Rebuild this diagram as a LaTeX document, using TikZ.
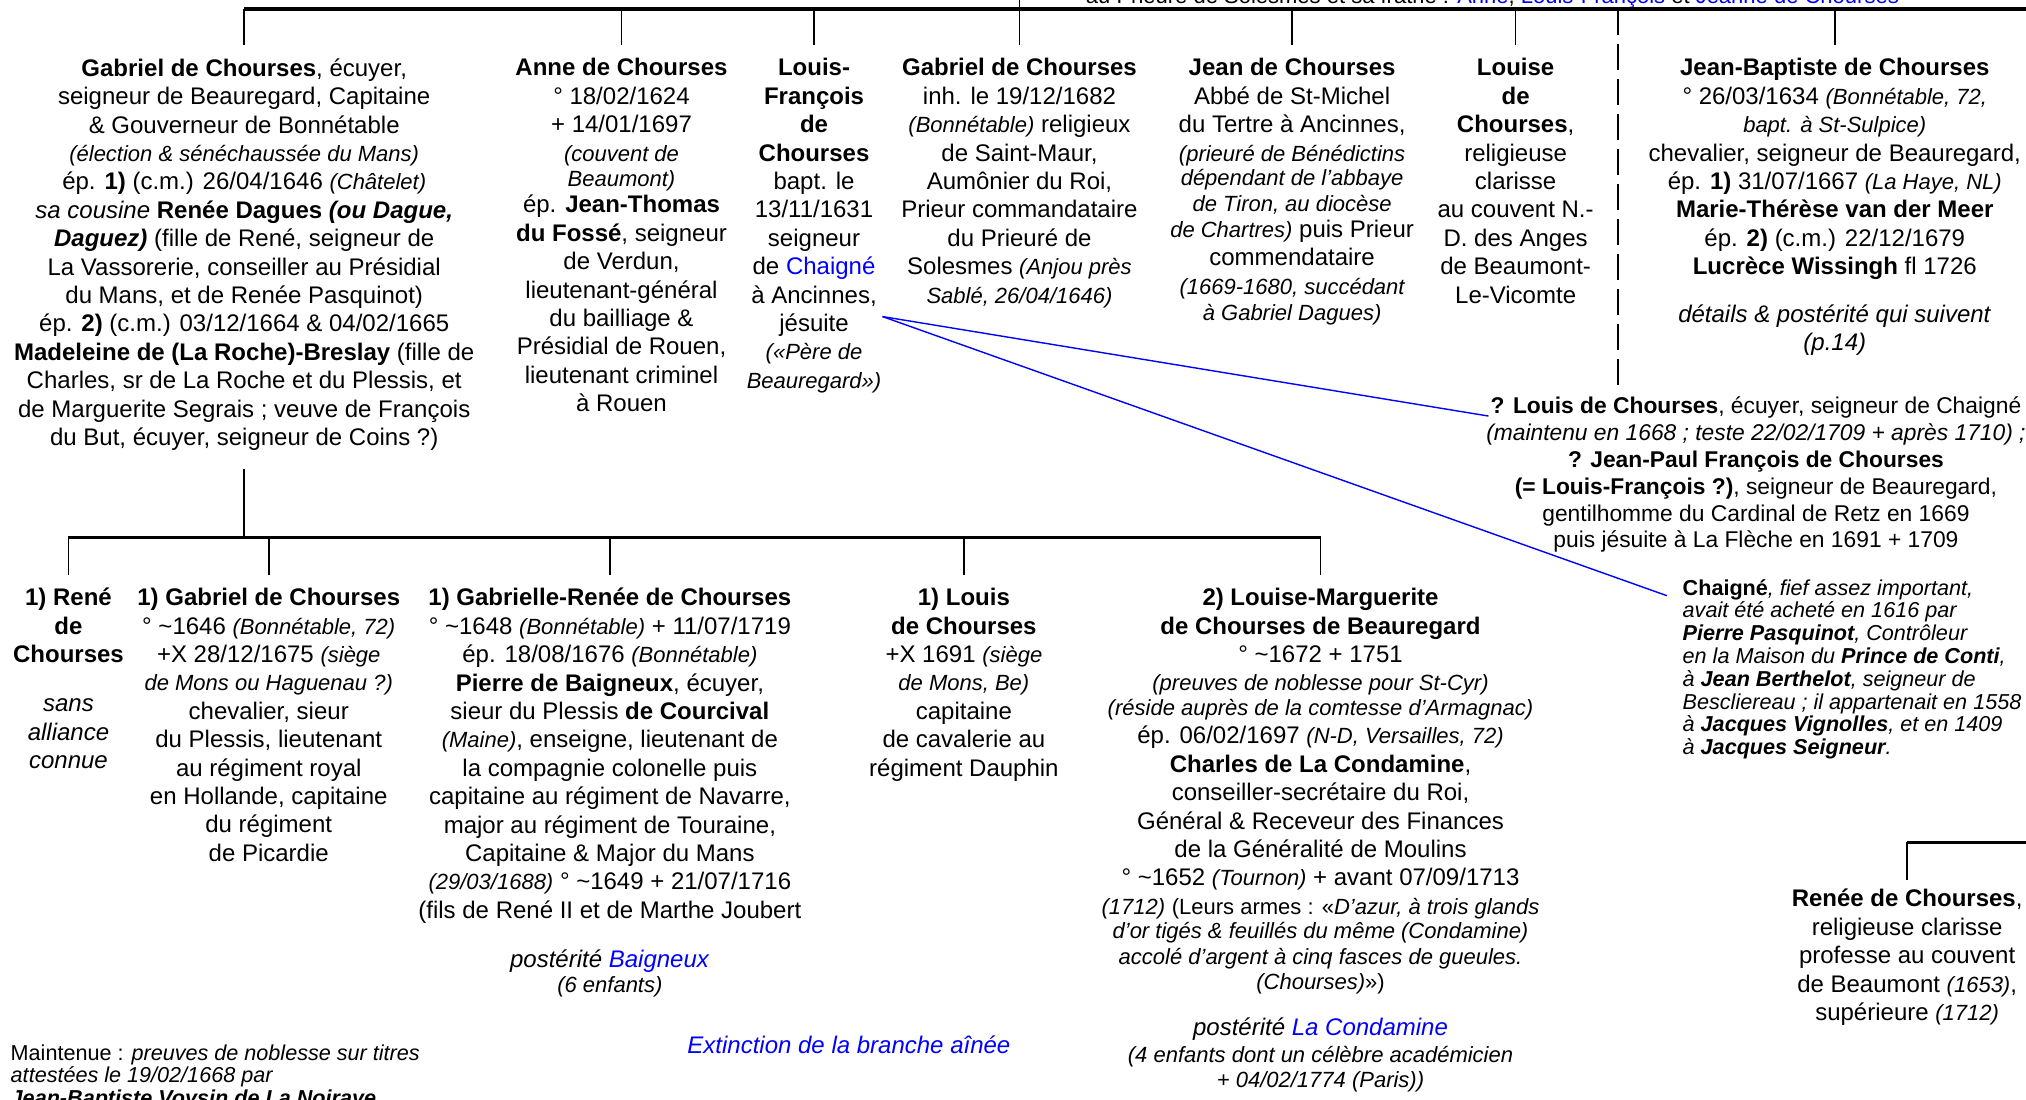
\documentclass[tikz,border=0pt]{standalone}
\usepackage{fontspec}
\setmainfont{Liberation Sans}
\definecolor{linkblue}{RGB}{0,0,255}
\newcommand{\smallit}[1]{{\fontsize{11}{12.6}\selectfont\itshape #1}}
\newcommand{\tld}{\textasciitilde}

\begin{document}
\begin{tikzpicture}[x=0.646pt,y=-0.646pt,
    person/.style={align=center, inner sep=0pt, anchor=north,
        font=\fontsize{12}{14.2}\selectfont},
    doubt/.style={align=center, inner sep=0pt, anchor=north,
        font=\fontsize{11.4}{13.4}\selectfont},
    remark/.style={align=left, inner sep=0pt, anchor=north west,
        font=\fontsize{10.8}{11.4}\selectfont\itshape},
    bar/.style={line width=1.6pt},
    drop/.style={line width=0.8pt},
    chaignelink/.style={linkblue, line width=0.7pt}]
                \useasboundingbox (0,0) rectangle (1568,851);
                \clip (0,0) rectangle (1568,851);

                % Draw the siblings of the top row
                \node[person] (gabA) at (189,45) {\textbf{Gabriel de Chourses}, écuyer,\\
                    seigneur de Beauregard, Capitaine\\
                    \& Gouverneur de Bonnétable\\
                    \smallit{(élection \& sénéchaussée du Mans)}\\
                    ép. \textbf{1)} (c.m.) 26/04/1646 \smallit{(Châtelet)}\\
                    \textit{sa cousine} \textbf{Renée Dagues \textit{(ou Dague,}}\\
                    \textbf{\textit{Daguez)}} (fille de René, seigneur de\\
                    La Vassorerie, conseiller au Présidial\\
                    du Mans, et de Renée Pasquinot)\\
                    ép. \textbf{2)} (c.m.) 03/12/1664 \& 04/02/1665\\
                    \textbf{Madeleine de (La Roche)-Breslay} (fille de\\
                    Charles, sr de La Roche et du Plessis, et\\
                    de Marguerite Segrais ; veuve de François\\
                    du But, écuyer, seigneur de Coins ?)};
                \node[person] (anne) at (481,45) {\textbf{Anne de Chourses}\\
                    ° 18/02/1624\\
                    + 14/01/1697\\
                    \smallit{(couvent de}\\[-1.5pt]
                    \smallit{Beaumont)}\\[-1pt]
                    ép. \textbf{Jean-Thomas}\\
                    \textbf{du Fossé}, seigneur\\
                    de Verdun,\\
                    lieutenant-général\\
                    du bailliage \&\\
                    Présidial de Rouen,\\
                    lieutenant criminel\\
                    à Rouen};
                \node[person] (louisF) at (630,45) {\textbf{Louis-}\\
                    \textbf{François}\\
                    \textbf{de}\\
                    \textbf{Chourses}\\
                    bapt. le\\
                    13/11/1631\\
                    seigneur\\
                    de \textcolor{linkblue}{Chaigné}\\
                    à Ancinnes,\\
                    jésuite\\
                    \smallit{(«Père de}\\
                    \smallit{Beauregard»)}};
                \node[person] (gabB) at (789,45) {\textbf{Gabriel de Chourses}\\
                    inh. le 19/12/1682\\
                    \smallit{(Bonnétable)} religieux\\
                    de Saint-Maur,\\
                    Aumônier du Roi,\\
                    Prieur commandataire\\
                    du Prieuré de\\
                    Solesmes \smallit{(Anjou près}\\
                    \smallit{Sablé, 26/04/1646)}};
                \node[person] (jean) at (1000,45) {\textbf{Jean de Chourses}\\
                    Abbé de St-Michel\\
                    du Tertre à Ancinnes,\\
                    \smallit{(prieuré de Bénédictins}\\[-1.9pt]
                    \smallit{dépendant de l'abbaye}\\[-1.3pt]
                    \smallit{de Tiron, au diocèse}\\[-1.3pt]
                    \smallit{de Chartres)} puis Prieur\\
                    commendataire\\
                    \smallit{(1669-1680, succédant}\\[-0.8pt]
                    \smallit{à Gabriel Dagues)}};
                \node[person] (louise) at (1173,45) {\textbf{Louise}\\
                    \textbf{de}\\
                    \textbf{Chourses},\\
                    religieuse\\
                    clarisse\\
                    au couvent N.-\\
                    D. des Anges\\
                    de Beaumont-\\
                    Le-Vicomte};
                \node[person] (jb) at (1420,45) {\textbf{Jean-Baptiste de Chourses}\\
                    ° 26/03/1634 \smallit{(Bonnétable, 72,}\\
                    \smallit{bapt. à St-Sulpice)}\\
                    chevalier, seigneur de Beauregard,\\
                    ép. \textbf{1)} 31/07/1667 \smallit{(La Haye, NL)}\\
                    \textbf{Marie-Thérèse van der Meer}\\
                    ép. \textbf{2)} (c.m.) 22/12/1679\\
                    \textbf{Lucrèce Wissingh} fl 1726\\[9.5pt]
                    \textit{détails \& postérité qui suivent}\\
                    \textit{(p.14)}};

                % Draw the doubtful Louis and the note on Chaigne
                \node[doubt] (louisQ) at (1359,307) {\textbf{? Louis de Chourses}, écuyer, seigneur de Chaigné\\
                    \textit{(maintenu en 1668 ; teste 22/02/1709 + après 1710) ;}\\
                    \textbf{? Jean-Paul François de Chourses}\\
                    \textbf{(= Louis-François ?)}, seigneur de Beauregard,\\
                    gentilhomme du Cardinal de Retz en 1669\\
                    puis jésuite à La Flèche en 1691 + 1709};
                \node[remark] (chaigneNote) at (1302,448) {\textbf{\upshape Chaigné}, fief assez important,\\
                    avait été acheté en 1616 par\\
                    \textbf{Pierre Pasquinot}, Contrôleur\\
                    en la Maison du \textbf{Prince de Conti},\\
                    à \textbf{Jean Berthelot}, seigneur de\\
                    Bescliereau ; il appartenait en 1558\\
                    à \textbf{Jacques Vignolles}, et en 1409\\
                    à \textbf{Jacques Seigneur}.};

                % Draw the children of Gabriel
                \node[person] (rene) at (53,455) {\textbf{1) René}\\
                    \textbf{de}\\
                    \textbf{Chourses}\\[10.4pt]
                    \textit{sans}\\
                    \textit{alliance}\\
                    \textit{connue}};
                \node[person] (gabC) at (208,455) {\textbf{1) Gabriel de Chourses}\\
                    ° \tld1646 \smallit{(Bonnétable, 72)}\\
                    +X 28/12/1675 \smallit{(siège}\\
                    \smallit{de Mons ou Haguenau ?)}\\
                    chevalier, sieur\\
                    du Plessis, lieutenant\\
                    au régiment royal\\
                    en Hollande, capitaine\\
                    du régiment\\
                    de Picardie};
                \node[person] (gabR) at (472,455) {\textbf{1) Gabrielle-Renée de Chourses}\\
                    ° \tld1648 \smallit{(Bonnétable)} + 11/07/1719\\
                    ép. 18/08/1676 \smallit{(Bonnétable)}\\
                    \textbf{Pierre de Baigneux}, écuyer,\\
                    sieur du Plessis \textbf{de Courcival}\\
                    \smallit{(Maine)}, enseigne, lieutenant de\\
                    la compagnie colonelle puis\\
                    capitaine au régiment de Navarre,\\
                    major au régiment de Touraine,\\
                    Capitaine \& Major du Mans\\
                    \smallit{(29/03/1688)} ° \tld1649 + 21/07/1716\\
                    (fils de René II et de Marthe Joubert\\[10.4pt]
                    \textit{postérité} \textcolor{linkblue}{\textit{Baigneux}}\\[-1.9pt]
                    \smallit{(6 enfants)}};
                \node[person] (louisB) at (746,455) {\textbf{1) Louis}\\
                    \textbf{de Chourses}\\
                    +X 1691 \smallit{(siège}\\
                    \smallit{de Mons, Be)}\\
                    capitaine\\
                    de cavalerie au\\
                    régiment Dauphin};
                \node[person] (louiseM) at (1022,455) {\textbf{2) Louise-Marguerite}\\
                    \textbf{de Chourses de Beauregard}\\
                    ° \tld1672 + 1751\\
                    \smallit{(preuves de noblesse pour St-Cyr)}\\[-1.9pt]
                    \smallit{(réside auprès de la comtesse d’Armagnac)}\\
                    ép. 06/02/1697 \smallit{(N-D, Versailles, 72)}\\
                    \textbf{Charles de La Condamine},\\
                    conseiller-secrétaire du Roi,\\
                    Général \& Receveur des Finances\\
                    de la Généralité de Moulins\\
                    ° \tld1652 \smallit{(Tournon)} + avant 07/09/1713\\
                    \smallit{(1712)} {\fontsize{11}{12.6}\selectfont (Leurs armes : «\textit{D'azur, à trois glands}}\\[-1.9pt]
                    \smallit{d'or tigés \& feuillés du même (Condamine)}\\[-1.3pt]
                    \smallit{accolé d'argent à cinq fasces de gueules.}\\[-1.9pt]
                    {\fontsize{11}{12.6}\selectfont\textit{(Chourses)}»)}\\[9pt]
                    \textit{postérité} \textcolor{linkblue}{\textit{La Condamine}}\\[-0.8pt]
                    \smallit{(4 enfants dont un célèbre académicien}\\[-1.9pt]
                    \smallit{+ 04/02/1774 (Paris))}};

                % Draw the loose texts
                \node[person] (extinction) at (657,801) {\textcolor{linkblue}{\textit{Extinction de la branche aînée}}};
                \node[remark] (maintenue) at (8,808) {\textup{Maintenue :} preuves de noblesse sur titres\\
                    attestées le 19/02/1668 par\\
                    \textbf{Jean-Baptiste Voysin de La Noiraye}};
                \node[person] (renee) at (1476,688) {\textbf{Renée de Chourses},\\
                    religieuse clarisse\\
                    professe au couvent\\
                    de Beaumont \smallit{(1653)},\\
                    supérieure \smallit{(1712)}};
                \node[anchor=base, inner sep=0pt, font=\fontsize{11}{13}\selectfont] (fratrie) at (1155,3)
                    {au Prieuré de Solesmes et sa fratrie : \textcolor{linkblue}{Anne}, \textcolor{linkblue}{Louis-François} et \textcolor{linkblue}{Jeanne de Chourses}};

                % Draw the bar of the top row and its drops
                \coordinate (topbar) at (0,7);
                \coordinate (barend) at (1568,7);
                \coordinate (parentstub) at (789,-5);
                \draw[bar] (gabA.north |- topbar) -- (barend);
                \foreach \n in {gabA, anne, louisF, jean, louise, jb} {
                \draw[drop] (\n.north |- topbar) -- ([yshift=6.5pt]\n.north);
                }
                \draw[drop] (parentstub) -- ([yshift=6.5pt]gabB.north);

                % Draw the dashed link down to the doubtful Louis
                \coordinate (dashtop) at (1252,7);
                \coordinate (dashend) at (1252,301);
                \draw[drop, dash pattern=on 13pt off 4.5pt] (dashtop) -- (dashend);

                % Draw the bar of the children and its drops
                \coordinate (kidsbar) at (0,416);
                \draw[drop] ([yshift=-9pt]gabA.south) -- (gabA.south |- kidsbar);
                \draw[bar, line width=1.2pt] (rene.north |- kidsbar) -- (louiseM.north |- kidsbar);
                \foreach \n in {rene, gabC, gabR, louisB, louiseM} {
                \draw[drop] (\n.north |- kidsbar) -- ([yshift=6.5pt]\n.north);
                }

                % Draw the bracket above Renee
                \coordinate (reneebar) at (1476,652);
                \draw[bar] (reneebar) -- (reneebar -| barend);
                \draw[drop] (reneebar) -- ([yshift=4.5pt]renee.north);

                % Draw the blue links from Chaigne
                \coordinate (chaigneSrc) at (683,245);
                \coordinate (toLouis) at (1152,322);
                \coordinate (toNote) at (1290,461);
                \draw[chaignelink] (chaigneSrc) -- (toLouis);
                \draw[chaignelink] (chaigneSrc) -- (toNote);

\end{tikzpicture}
\end{document}
